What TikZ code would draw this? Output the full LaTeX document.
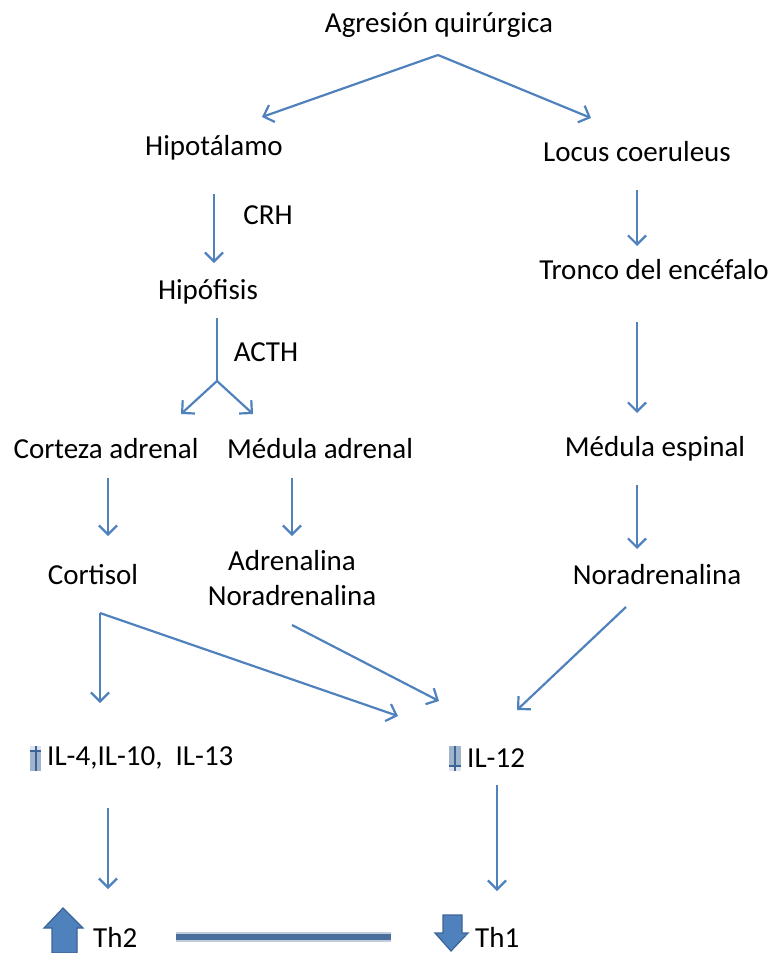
\documentclass[tikz,border=0pt]{standalone}
\usepackage{fontspec}
\setmainfont{Carlito}
\usetikzlibrary{arrows.meta}
\definecolor{arr}{HTML}{4F81BD}
\definecolor{arrdark}{HTML}{3C6496}
\definecolor{barc}{HTML}{4A6E9B}
\definecolor{barl}{HTML}{C3CCDA}
\definecolor{smalll}{HTML}{A0B4CC}
\definecolor{smallt}{HTML}{DDE3EC}
\begin{document}
\begin{tikzpicture}[x=1pt,y=-1pt,
  lbl/.style={font=\fontsize{29}{33}\selectfont, inner sep=0pt, text=black},
  con/.style={draw=arr, line width=2.2pt, -{Straight Barb[length=9pt,width=18pt,line width=2.2pt]}},
  plain/.style={draw=arr, line width=2.2pt},
  blockarr/.style={fill=arr, draw=arrdark, line width=1.2pt}]
\useasboundingbox (0,0) rectangle (772,953);
% nodes
\node[lbl] (agr) at (439,25) {Agresión quirúrgica};
\node[lbl] (hip) at (214,148) {Hipotálamo};
\node[lbl] (loc) at (637,152) {Locus coeruleus};
\node[lbl] (crh) at (268,215) {CRH};
\node[lbl] (hipof) at (208,292) {Hipófisis};
\node[lbl] (acth) at (266,352) {ACTH};
\node[lbl] (tronco) at (654,270) {Tronco del encéfalo};
\node[lbl] (cort) at (106,449) {Corteza adrenal};
\node[lbl] (med) at (320,449) {Médula adrenal};
\node[lbl] (medesp) at (655,449) {Médula espinal};
\node[lbl] (cortisol) at (93,575) {Cortisol};
\node[lbl, align=center] (adren) at (292,578) {Adrenalina\\[2pt]Noradrenalina};
\node[lbl] (noradr) at (657,575) {Noradrenalina};
\node[lbl, anchor=west] (il4) at (47,758) {IL-4,IL-10,\ \ IL-13};
\node[lbl, anchor=west] (il12) at (467,758) {IL-12};
\node[lbl, anchor=west] (th2) at (93,937) {Th2};
\node[lbl, anchor=west] (th1) at (475,937) {Th1};
% connector end points
\coordinate (a0) at (438,55);
\coordinate (a1) at (262,117);
\coordinate (a2) at (591,118);
\coordinate (h0) at (214,194);
\coordinate (h1) at (214,263);
\coordinate (p0) at (217,318);
\coordinate (pj) at (217,381);
\coordinate (pl) at (181,414);
\coordinate (pr) at (253,414);
\coordinate (c0) at (108,478);
\coordinate (c1) at (108,536);
\coordinate (m0) at (292,478);
\coordinate (m1) at (292,536);
\coordinate (l0) at (637,190);
\coordinate (l1) at (637,246);
\coordinate (t0) at (637,322);
\coordinate (t1) at (637,413);
\coordinate (e0) at (637,485);
\coordinate (e1) at (637,549);
\coordinate (k0) at (100,613);
\coordinate (k1) at (100,703);
\coordinate (k2) at (398,716);
\coordinate (n0) at (292,625);
\coordinate (n1) at (439,701);
\coordinate (r0) at (626,607);
\coordinate (r1) at (517,710);
\coordinate (i0) at (108,808);
\coordinate (i1) at (108,889);
\coordinate (j0) at (497,785);
\coordinate (j1) at (497,891);
\coordinate (b0) at (176,937);
\coordinate (b1) at (391,937);
% connectors
\draw[con] (a0) -- (a1);
\draw[con] (a0) -- (a2);
\draw[con] (h0) -- (h1);
\draw[plain] (p0) -- (pj);
\draw[con] (pj) -- (pl);
\draw[con] (pj) -- (pr);
\draw[con] (c0) -- (c1);
\draw[con] (m0) -- (m1);
\draw[con] (l0) -- (l1);
\draw[con] (t0) -- (t1);
\draw[con] (e0) -- (e1);
\draw[con] (k0) -- (k1);
\draw[con] (k0) -- (k2);
\draw[con] (n0) -- (n1);
\draw[con] (r0) -- (r1);
\draw[con] (i0) -- (i1);
\draw[con] (j0) -- (j1);
% bar between Th2 and Th1
\draw[barl, line width=10pt] (b0) -- (b1);
\draw[barc, line width=6.5pt] (b0) -- (b1);
% small arrows (up before IL-4, down before IL-12)
\fill[smallt] (30,746) rectangle (41,751);
\fill[smalll] (30,751) rectangle (41,771);
\draw[arrdark, line width=1.5pt] (30,751) -- (41,751);
\draw[arrdark, line width=2pt] (36,771) -- (36,746);
\fill[smalll] (449,746) rectangle (461,766);
\fill[smallt] (449,766) rectangle (461,771);
\draw[arrdark, line width=1.5pt] (449,766) -- (461,766);
\draw[arrdark, line width=2pt] (455,746) -- (455,771);
% block arrows
\draw[blockarr] (52,953) -- (52,928) -- (44,928) -- (63,908) -- (83,928) -- (77,928) -- (77,953) -- cycle;
\draw[blockarr] (443,915) -- (462,915) -- (462,933) -- (468,933) -- (451,951) -- (435,933) -- (443,933) -- cycle;
\end{tikzpicture}
\end{document}
